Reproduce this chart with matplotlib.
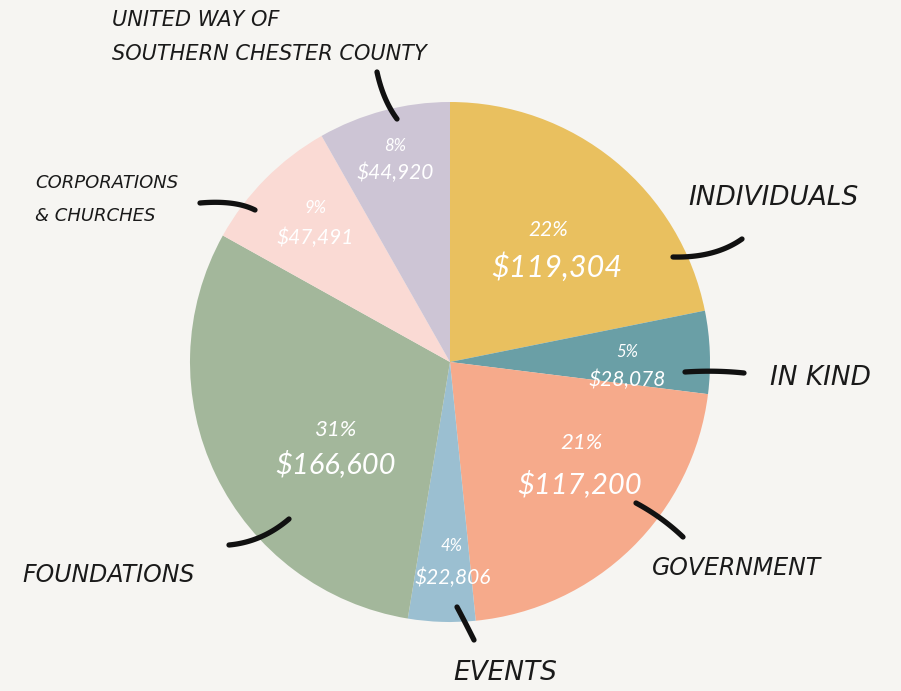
import matplotlib.pyplot as plt
import numpy as np

# data
sources = ['INDIVIDUALS', 'IN KIND', 'GOVERNMENT', 'EVENTS', 'FOUNDATIONS',
           'CORPORATIONS\n& CHURCHES', 'UNITED WAY OF\nSOUTHERN CHESTER COUNTY']
amounts = [119304, 28078, 117200, 22806, 166600, 47491, 44920]
pct_labels = ['22%', '5%', '21%', '4%', '31%', '9%', '8%']
colors = ['#E9C05F', '#6A9FA6', '#F6AA8B', '#9BBFD1', '#A3B79B', '#FADAD4', '#CDC5D5']

bg = '#F6F5F2'
H = 691

fig = plt.figure(figsize=(9.01, 6.91), dpi=100, facecolor=bg)
ax = fig.add_axes([0, 0, 1, 1])
ax.set_facecolor(bg)

ax.pie(amounts, colors=colors, startangle=90, counterclock=False,
       center=(450, H - 362), radius=260, frame=True,
       wedgeprops=dict(linewidth=0))
ax.set_xlim(0, 901)
ax.set_ylim(0, H)
ax.axis('off')

def py(y):
    return H - y

# in-slice labels (pixel positions, size of pct, size of amount)
inner = [((548, 230), (557, 267), 15, 22),
         ((627, 352), (627, 380), 12, 15),
         ((581, 443), (580, 484), 16, 21),
         ((452, 546), (453, 578), 12, 15),
         ((336, 430), (336, 464), 16, 21),
         ((315, 208), (315, 238), 12, 15),
         ((395, 146), (395, 173), 12, 15)]
for (p, a, fs1, fs2), pct, amt in zip(inner, pct_labels, amounts):
    ax.text(p[0], py(p[1]), pct, color='white', ha='center', va='center',
            fontsize=fs1, style='italic', family='Lato')
    ax.text(a[0], py(a[1]), '${:,}'.format(amt), color='white', ha='center',
            va='center', fontsize=fs2, style='italic', family='Lato')

# outside labels
lab_kw = dict(color='#1A1A1A', style='italic', family='DejaVu Sans', va='center')
ax.text(688, py(198), sources[0], fontsize=19, ha='left', **lab_kw)
ax.text(770, py(378), sources[1], fontsize=19, ha='left', **lab_kw)
ax.text(652, py(568), sources[2], fontsize=17, ha='left', **lab_kw)
ax.text(453, py(673), sources[3], fontsize=19, ha='left', **lab_kw)
ax.text(22, py(575), sources[4], fontsize=17, ha='left', **lab_kw)
c1, c2 = sources[5].split('\n')
ax.text(35, py(183), c1, fontsize=13, ha='left', **lab_kw)
ax.text(35, py(216), c2, fontsize=13, ha='left', **lab_kw)
u1, u2 = sources[6].split('\n')
ax.text(112, py(20), u1, fontsize=15, ha='left', **lab_kw)
ax.text(112, py(54), u2, fontsize=15, ha='left', **lab_kw)

# hand-drawn leader strokes: start, control, end (quadratic curves)
leaders = [((673, 257), (715, 258), (742, 239)),
           ((685, 372), (715, 370), (744, 373)),
           ((636, 503), (662, 517), (683, 537)),
           ((457, 607), (465, 622), (474, 640)),
           ((229, 545), (262, 542), (289, 519)),
           ((200, 203), (235, 200), (255, 210)),
           ((377, 72), (383, 100), (397, 119))]
t = np.linspace(0, 1, 40)
for p0, p1, p2 in leaders:
    p0, p1, p2 = np.array(p0), np.array(p1), np.array(p2)
    curve = ((1 - t) ** 2)[:, None] * p0 + (2 * (1 - t) * t)[:, None] * p1 + (t ** 2)[:, None] * p2
    ax.plot(curve[:, 0], py(curve[:, 1]), color='#111111', lw=3.8,
            solid_capstyle='round')

fig.savefig('out.png', dpi=100, facecolor=bg)
